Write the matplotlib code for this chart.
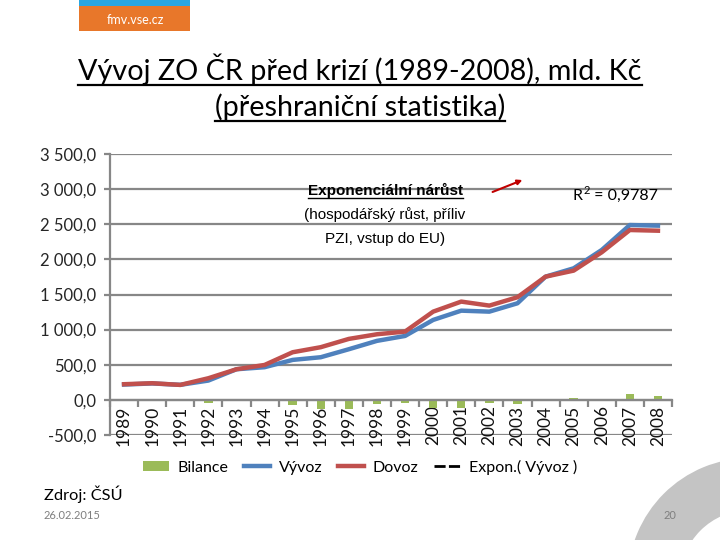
import matplotlib
matplotlib.use('Agg')
import matplotlib.pyplot as plt
from matplotlib.lines import Line2D
from matplotlib.patches import Rectangle, Wedge, FancyArrowPatch, Patch
from matplotlib.transforms import IdentityTransform
import numpy as np

# ---------------- data ----------------
years = [str(y) for y in range(1989, 2009)]
vyvoz = [218, 234, 214, 275, 436, 465, 569, 607, 721, 840, 910, 1138, 1270, 1256, 1375, 1754, 1873, 2134, 2489, 2480]
dovoz = [223, 237, 213, 308, 436, 497, 678, 750, 868, 934, 972, 1256, 1399, 1342, 1461, 1754, 1840, 2101, 2418, 2408]
bilance = [0, 0, 0, -38, 0, -19, -76, -133, -133, -62, -47, -109, -109, -47, -52, -8, 24, 17, 85, 62]
yticks = [-500, 0, 500, 1000, 1500, 2000, 2500, 3000, 3500]
ytick_labels = ['-500,0', '0,0', '500,0', '1 000,0', '1 500,0', '2 000,0', '2 500,0', '3 000,0', '3 500,0']
legend_labels = ['Bilance', 'Vývoz', 'Dovoz', 'Expon.( Vývoz )']
title1 = 'Vývoj ZO ČR před krizí (1989-2008), mld. Kč'
title2 = '(přeshraniční statistika)'
note1 = 'Exponenciální nárůst'
note2 = '(hospodářský růst, příliv'
note3 = 'PZI, vstup do EU)'
r2_parts = ['R', '2', ' = 0,9787']

W, H = 720, 540
fig = plt.figure(figsize=(7.2, 5.4), dpi=100)
fig.patch.set_facecolor('white')

def fx(px):
    return px / W

def fy(py):
    return 1 - py / H

GRID = '#878787'
BLUE = '#4F81BD'
RED = '#C0504D'
GREEN = '#9BBB59'
FONT = ['Lato', 'DejaVu Sans']

# decorative gray arc at bottom right
arc = Wedge((750, 540 - 580), 122, 0, 360, width=52, facecolor='#C4C4C4',
            edgecolor='none', transform=IdentityTransform(), zorder=0)
fig.patches.append(arc)

# logo
fig.patches.append(Rectangle((fx(79), fy(31)), fx(190) - fx(79), fy(6) - fy(31),
                             transform=fig.transFigure, facecolor='#E8772A', edgecolor='none'))
fig.patches.append(Rectangle((fx(79), fy(6)), fx(190) - fx(79), fy(0) - fy(6),
                             transform=fig.transFigure, facecolor='#2AA6E0', edgecolor='none'))
fig.text(fx(135), fy(20), 'fmv.vse.cz', color='white', fontsize=9, family=FONT,
         ha='center', va='center')

# ---------------- axes ----------------
ax = fig.add_axes([fx(110), fy(435), fx(672) - fx(110), fy(154) - fy(435)])
ax.set_facecolor('none')
x = np.arange(len(years))
for v in yticks:
    ax.axhline(v, color=GRID, lw=1.6, zorder=1)
ax.bar(x, bilance, width=0.3, color=GREEN, zorder=2)
ax.plot(x, vyvoz, color=BLUE, lw=3.2, zorder=3, solid_joinstyle='round')
ax.plot(x, dovoz, color=RED, lw=3.2, zorder=4, solid_joinstyle='round')
ax.set_xlim(-0.5, 19.5)
ax.set_ylim(-500, 3500)

for s in ['top', 'right']:
    ax.spines[s].set_visible(False)
ax.spines['left'].set_color(GRID)
ax.spines['left'].set_linewidth(1.6)
ax.spines['bottom'].set_position(('data', 0))
ax.spines['bottom'].set_color(GRID)
ax.spines['bottom'].set_linewidth(1.6)

ax.set_yticks(yticks)
ax.set_yticklabels(ytick_labels, fontsize=12, family=FONT, color='#262626')
ax.tick_params(axis='y', length=4, width=1.6, color=GRID, pad=6)

ax.set_xticks(x)
ax.set_xticklabels(years, rotation=90, fontsize=12.5, family=FONT, color='#111111')
ax.tick_params(axis='x', which='major', length=0, pad=4)
ax.set_xticks(np.arange(-0.5, 20, 1), minor=True)
ax.tick_params(axis='x', which='minor', length=5, width=1.6, color=GRID, direction='out')

# legend
handles = [Patch(facecolor=GREEN, edgecolor='none'),
           Line2D([], [], color=BLUE, lw=3.2),
           Line2D([], [], color=RED, lw=3.2),
           Line2D([], [], color='black', lw=2, linestyle=(0, (4, 1.2)))]
fig.legend(handles, legend_labels, loc='center', bbox_to_anchor=(fx(360), fy(467)),
           ncol=4, frameon=False, handlelength=1.6, handleheight=0.55,
           columnspacing=1.0, handletextpad=0.55,
           prop={'family': FONT, 'size': 11.5})

# annotation texts
ARIAL = ['Liberation Sans', 'DejaVu Sans']
t_n1 = fig.text(fx(385), fy(195), note1, fontsize=11, family=ARIAL, weight='bold',
                ha='center', va='baseline')
fig.text(fx(385), fy(219), note2, fontsize=11, family=ARIAL, ha='center', va='baseline')
fig.text(fx(385), fy(243), note3, fontsize=11, family=ARIAL, ha='center', va='baseline')

arrow = FancyArrowPatch((fx(490), fy(193)), (fx(525), fy(179)), transform=fig.transFigure,
                        arrowstyle='-|>', mutation_scale=7, color='#C00000', lw=1.5)
fig.patches.append(arrow)

# title
t1 = fig.text(fx(360), fy(80), title1, fontsize=20.7, family=FONT, ha='center', va='baseline')
t2 = fig.text(fx(360), fy(116), title2, fontsize=20.7, family=FONT, ha='center', va='baseline')

# footer
fig.text(fx(44), fy(500), 'Zdroj: ČSÚ', fontsize=11.8, family=FONT, ha='left', va='baseline')
fig.text(fx(44), fy(519), '26.02.2015', fontsize=8, family=FONT, color='#7F7F7F',
         ha='left', va='baseline')
fig.text(fx(670), fy(519), '20', fontsize=8, family=FONT, color='#7F7F7F',
         ha='center', va='baseline')

fig.canvas.draw()
renderer = fig.canvas.get_renderer()

# R^2 label built from pieces
tr = fig.text(fx(573), fy(200), r2_parts[0], fontsize=11.5, family=FONT, ha='left', va='baseline')
bb = tr.get_window_extent(renderer)
ts = fig.text(bb.x1 / W + fx(0.5), fy(194), r2_parts[1], fontsize=8, family=FONT,
              ha='left', va='baseline')
bb2 = ts.get_window_extent(renderer)
fig.text(bb2.x1 / W, fy(200), r2_parts[2], fontsize=11.5, family=FONT, ha='left', va='baseline')

# underlines
def underline(t, ypx, lw):
    b = t.get_window_extent(renderer)
    fig.lines.append(Line2D([b.x0 / W, b.x1 / W], [fy(ypx), fy(ypx)],
                            transform=fig.transFigure, color='black', lw=lw))

underline(t1, 85, 1.6)
underline(t2, 121, 1.6)
underline(t_n1, 198, 1.0)

fig.savefig('out.png', dpi=100, facecolor='white')
